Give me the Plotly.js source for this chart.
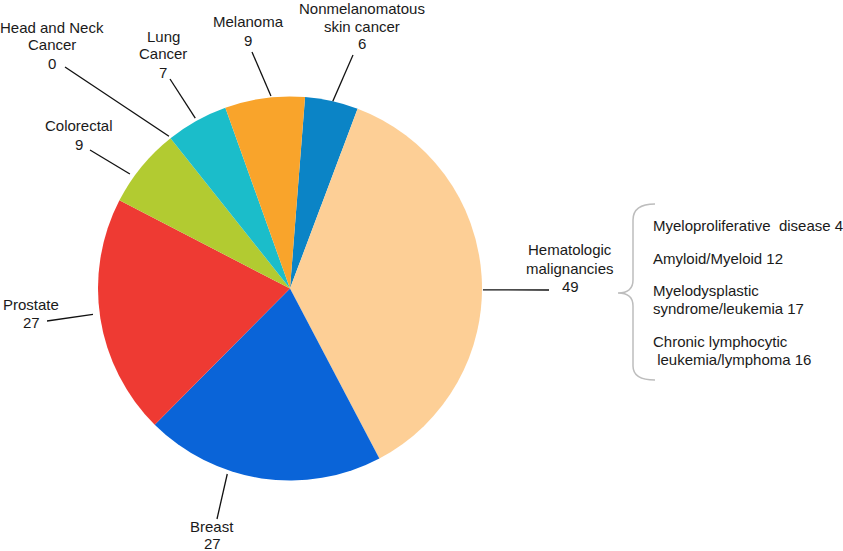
<!DOCTYPE html>
<html>
<head>
<meta charset="utf-8">
<script src="https://cdn.plot.ly/plotly-3.0.1.min.js"></script>
<style>html,body{margin:0;padding:0;background:#fff;}#chart{width:843px;height:551px;}</style>
</head>
<body>
<div id="chart"></div>
<script>
// ---- data ----
const categories = ["Nonmelanomatous<br>skin cancer", "Hematologic<br>malignancies", "Breast", "Prostate", "Colorectal", "Head and Neck<br>Cancer", "Lung<br>Cancer", "Melanoma"];
const values = [6, 49, 27, 27, 9, 0, 7, 9];
const sliceColors = ["#0b84c6", "#fdcf96", "#0a64d8", "#ee3a33", "#b2cb31", "#8c8c8c", "#1bbdca", "#f9a42b"];
const hemSubtypes = ["Myeloproliferative  disease", "Amyloid/Myeloid", "Myelodysplastic<br>syndrome/leukemia", "Chronic lymphocytic<br> leukemia/lymphoma"];
const hemSubValues = [4, 12, 17, 16];

// ---- layout config (pixels) ----
const W = 843, H = 551;
const pie = {cx: 290, cy: 288.5, r: 192, rotation: 4.5};
const labelCfg = [
  {cx: 362, y0: 9,   gap: 17.5, end: [353, 55],  t: 0.52, k: 1.0},
  {cx: 570, y0: 250, gap: 18,   end: [549, 290], t: 0.53, k: 1.005},
  {cx: 212, y0: 526, gap: 17.5, end: [217, 519], t: 0.64, k: 1.02},
  {cx: 31,  y0: 304, gap: 18.5, end: [47, 321],  t: 0.52, k: 1.035},
  {cx: 79,  y0: 126, gap: 18,   end: [90, 150],  t: 0.34, k: 1.025},
  {cx: 52,  y0: 27,  gap: 18,   end: [65, 67],   t: 0.5,  k: 1.013},
  {cx: 163, y0: 36,  gap: 18,   end: [170, 79],  t: 0.5,  k: 1.015},
  {cx: 248, y0: 22,  gap: 18.5, end: [252, 52],  t: 0.58, k: 1.007}
];
const subCfg = {x: 652, y0s: [225, 258, 290, 341], gap: 18};
const textColor = "#1a1a1a";
const fontFam = "Liberation Sans, Arial, sans-serif";
const fs = 15;

const px = x => x / W;
const py = y => 1 - y / H;

const trace = {
  type: "pie",
  labels: categories,
  values: values,
  sort: false,
  direction: "clockwise",
  rotation: pie.rotation,
  marker: {colors: sliceColors, line: {width: 0}},
  textinfo: "none",
  hoverinfo: "label+value",
  showlegend: false,
  domain: {
    x: [px(pie.cx - pie.r), px(pie.cx + pie.r)],
    y: [py(pie.cy + pie.r), py(pie.cy - pie.r)]
  }
};

const annotations = [];
const shapes = [];
const total = values.reduce((a, b) => a + b, 0);
let cum = 0;
values.forEach((v, i) => {
  const cfg = labelCfg[i];
  const a0 = pie.rotation + cum / total * 360;
  const a1 = pie.rotation + (cum + v) / total * 360;
  cum += v;
  const ang = (a0 + (a1 - a0) * cfg.t) * Math.PI / 180;
  const sx = pie.cx + pie.r * cfg.k * Math.sin(ang);
  const sy = pie.cy - pie.r * cfg.k * Math.cos(ang);
  shapes.push({type: "line", xref: "paper", yref: "paper",
    x0: px(sx), y0: py(sy), x1: px(cfg.end[0]), y1: py(cfg.end[1]),
    line: {color: "#111", width: 1.3}});
  const lines = categories[i].split("<br>").concat([String(v)]);
  lines.forEach((ln, j) => {
    annotations.push({xref: "paper", yref: "paper", x: px(cfg.cx), y: py(cfg.y0 + j * cfg.gap),
      xanchor: "center", yanchor: "middle", showarrow: false, text: ln, borderpad: 0,
      font: {family: fontFam, size: fs, color: textColor}});
  });
});

hemSubtypes.forEach((name, i) => {
  const lines = (name + " " + hemSubValues[i]).split("<br>");
  lines.forEach((ln, j) => {
    annotations.push({xref: "paper", yref: "paper", x: px(subCfg.x), y: py(subCfg.y0s[i] + j * subCfg.gap),
      xanchor: "left", yanchor: "middle", showarrow: false, borderpad: 0,
      text: ln.replace(/ /g, "&nbsp;").replace(/&nbsp;(?=\S)/g, " ").replace(/^ /, "&nbsp;"),
      font: {family: fontFam, size: fs, color: textColor}});
  });
});

// curly brace
const P = (x, y) => px(x).toFixed(5) + "," + py(y).toFixed(5);
const bracePath = "M" + P(655, 204) + " Q" + P(633, 204) + " " + P(633, 220) +
  " L" + P(633, 280) + " Q" + P(633, 293) + " " + P(618, 293) +
  " Q" + P(633, 293) + " " + P(633, 306) + " L" + P(633, 366) +
  " Q" + P(633, 380) + " " + P(655, 380);
shapes.push({type: "path", xref: "paper", yref: "paper", path: bracePath,
  line: {color: "#bdbdbd", width: 1.5}});

const layout = {
  width: W, height: H,
  margin: {l: 0, r: 0, t: 0, b: 0},
  paper_bgcolor: "#ffffff",
  plot_bgcolor: "#ffffff",
  showlegend: false,
  annotations: annotations,
  shapes: shapes
};

Plotly.newPlot("chart", [trace], layout, {displayModeBar: false, staticPlot: true});
</script>
</body>
</html>
